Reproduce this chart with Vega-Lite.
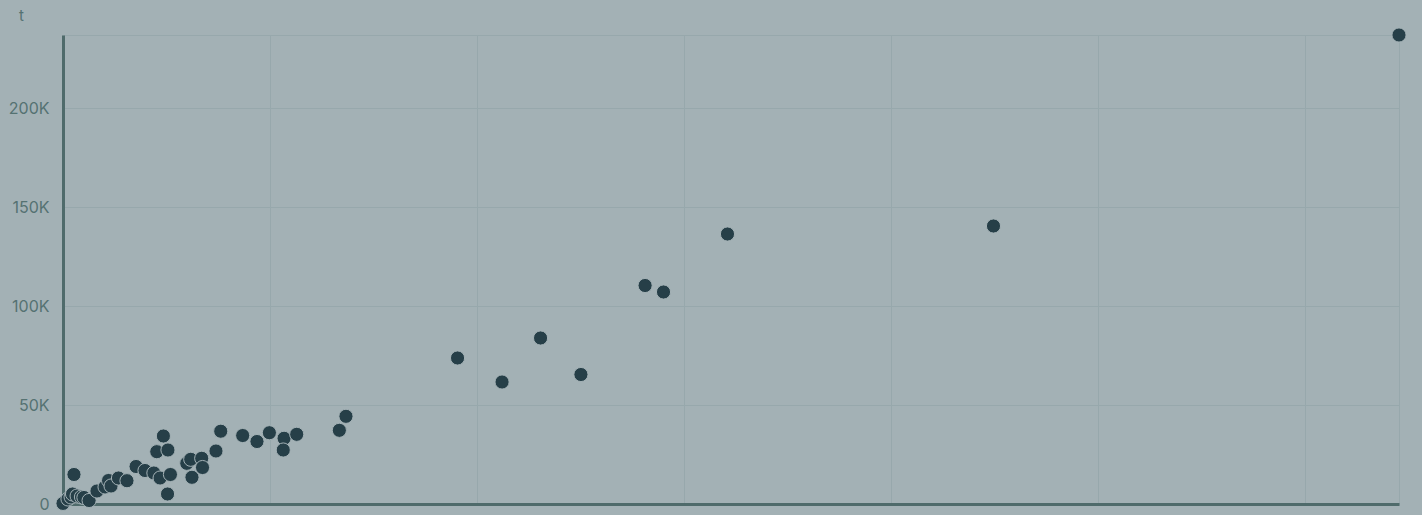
{
  "$schema": "https://vega.github.io/schema/vega-lite/v6.json",
  "width": 1336,
  "height": 469,
  "autosize": {"type": "none"},
  "padding": {"left": 63, "top": 35, "right": 23, "bottom": 11},
  "background": "#a3b1b5",
  "config": {
    "view": {"stroke": "#97a8ac", "strokeWidth": 1},
    "font": "Inter"
  },
  "data": {
    "values": [
      {"x": 0, "y": 300},
      {"x": 2.4, "y": 2525},
      {"x": 3.9, "y": 3535},
      {"x": 4.6, "y": 5050},
      {"x": 5.3, "y": 14900},
      {"x": 6.8, "y": 4040},
      {"x": 8.9, "y": 3535},
      {"x": 10.1, "y": 3283},
      {"x": 12.6, "y": 1768},
      {"x": 16.4, "y": 6565},
      {"x": 20.3, "y": 8586},
      {"x": 22.0, "y": 11870},
      {"x": 23.2, "y": 9090},
      {"x": 26.8, "y": 13130},
      {"x": 30.9, "y": 11770},
      {"x": 35.3, "y": 18940},
      {"x": 39.6, "y": 16920},
      {"x": 43.9, "y": 15660},
      {"x": 46.9, "y": 13130},
      {"x": 51.9, "y": 14900},
      {"x": 50.5, "y": 5050},
      {"x": 45.3, "y": 26420},
      {"x": 50.7, "y": 27270},
      {"x": 48.5, "y": 34340},
      {"x": 59.8, "y": 20550},
      {"x": 61.7, "y": 22570},
      {"x": 62.3, "y": 13480},
      {"x": 67.0, "y": 23080},
      {"x": 67.4, "y": 18430},
      {"x": 73.9, "y": 26770},
      {"x": 76.2, "y": 36760},
      {"x": 86.8, "y": 34580},
      {"x": 93.7, "y": 31560},
      {"x": 99.7, "y": 36000},
      {"x": 106.8, "y": 33180},
      {"x": 106.4, "y": 27270},
      {"x": 112.9, "y": 35190},
      {"x": 133.5, "y": 37210},
      {"x": 136.7, "y": 44280},
      {"x": 190.6, "y": 73740},
      {"x": 212.1, "y": 61620},
      {"x": 230.7, "y": 83840},
      {"x": 250.2, "y": 65400},
      {"x": 281.2, "y": 110350},
      {"x": 290.1, "y": 107070},
      {"x": 321.0, "y": 136360},
      {"x": 449.5, "y": 140400},
      {"x": 645.4, "y": 236870}
    ]
  },
  "mark": {"type": "circle", "size": 200, "opacity": 1, "fill": "#263f48", "stroke": "#a3b1b5", "strokeWidth": 1},
  "encoding": {
    "x": {
      "field": "x",
      "type": "quantitative",
      "scale": {"nice": false, "zero": true},
      "axis": {
        "title": null,
        "labels": false,
        "ticks": false,
        "tickSize": 0,
        "values": [0, 100, 200, 300, 400, 500, 600],
        "grid": true,
        "gridColor": "#97a8ac",
        "gridWidth": 1,
        "domainColor": "#4f6b6b",
        "domainWidth": 3
      }
    },
    "y": {
      "field": "y",
      "type": "quantitative",
      "scale": {"nice": false, "zero": true},
      "axis": {
        "title": "t",
        "titleAngle": 0,
        "titleX": -42,
        "titleY": -20,
        "titleAlign": "center",
        "titleBaseline": "middle",
        "titleFont": "Inter",
        "titleFontSize": 15,
        "titleFontWeight": "normal",
        "titleColor": "#557272",
        "values": [0, 50000, 100000, 150000, 200000],
        "labelExpr": "datum.value == 0 ? '0' : format(datum.value / 1000, 'd') + 'K'",
        "labelFont": "Inter",
        "labelFontSize": 16,
        "labelColor": "#557272",
        "labelPadding": 14,
        "ticks": false,
        "tickSize": 0,
        "grid": true,
        "gridColor": "#97a8ac",
        "gridWidth": 1,
        "domainColor": "#4f6b6b",
        "domainWidth": 3
      }
    }
  }
}
